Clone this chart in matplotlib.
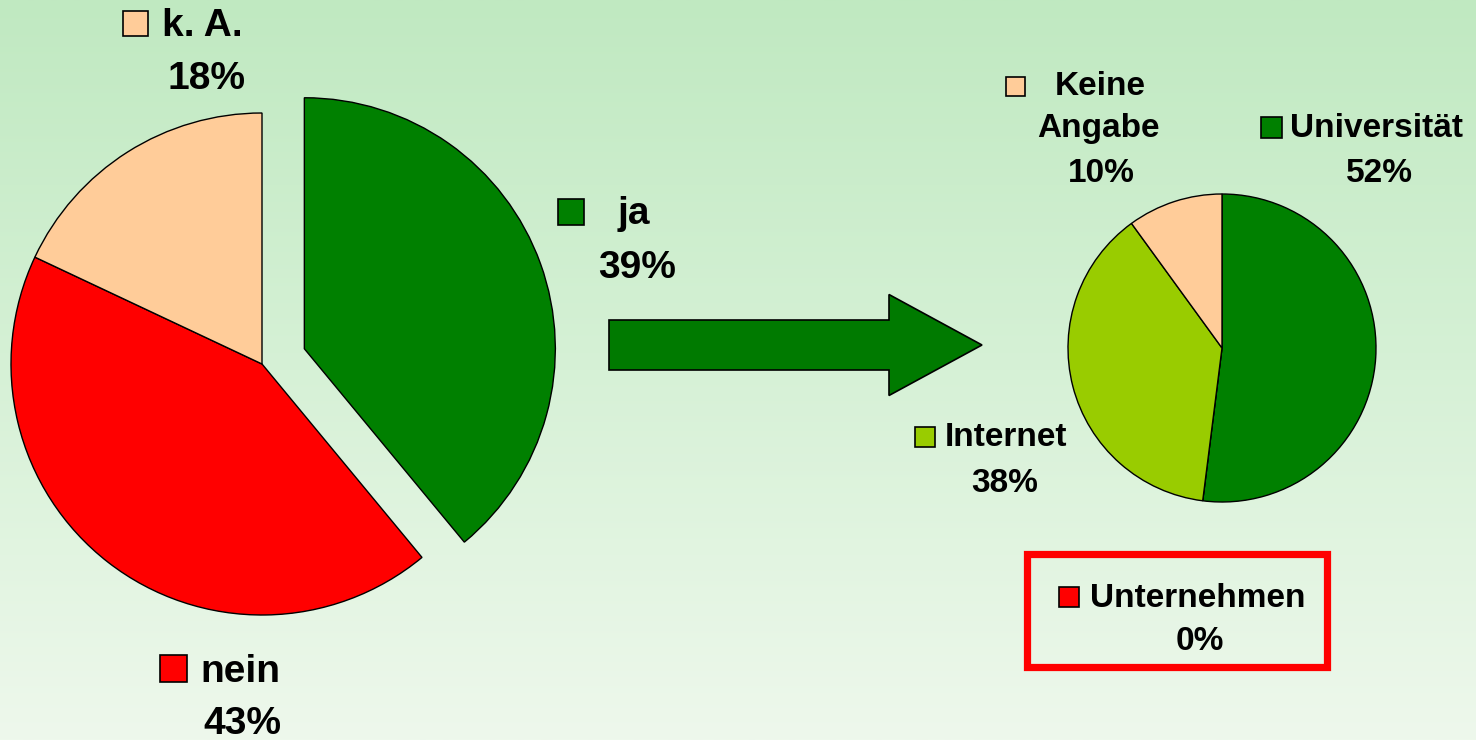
import numpy as np
import matplotlib
matplotlib.use("Agg")
import matplotlib.pyplot as plt
from matplotlib.patches import Rectangle, FancyArrow
from matplotlib.colors import LinearSegmentedColormap

plt.rcParams['font.family'] = ['Liberation Sans', 'DejaVu Sans']

W, H = 1476, 740

# left pie: answered yes / no / no answer
main_labels = ['ja', 'nein', 'k. A.']
main_values = [39, 43, 18]
main_colors = ['#008000', '#ff0000', '#ffcc99']

# right pie: where "ja" came from
src_labels = ['Universität', 'Unternehmen', 'Internet', 'Keine\nAngabe']
src_values = [52, 0, 38, 10]
src_colors = ['#008000', '#ff0000', '#99cc00', '#ffcc99']


def fy(y):
    return H - y


fig = plt.figure(figsize=(W / 100, H / 100), dpi=100)
ax = fig.add_axes([0, 0, 1, 1])

# background gradient, darker green at the top
grad = LinearSegmentedColormap.from_list('bg', ['#c0e9c1', '#d6f1d6', '#eef8ec'])
ax.imshow(np.linspace(0, 1, 256).reshape(-1, 1), cmap=grad, aspect='auto',
          extent=(0, W, 0, H), zorder=0)

wp = dict(edgecolor='black', linewidth=1)
ax.pie(main_values, colors=main_colors, startangle=90, counterclock=False,
       explode=[45, 0, 0], center=(262, fy(364)), radius=251,
       wedgeprops=wp, frame=True)
ax.pie(src_values, colors=src_colors, startangle=90, counterclock=False,
       center=(1222, fy(348)), radius=154, wedgeprops=wp, frame=True)

ax.add_patch(FancyArrow(609, fy(345), 373, 0, width=50, head_width=101,
                        head_length=93, length_includes_head=True,
                        facecolor='#007a00', edgecolor='black', linewidth=1.2))

# red frame around Unternehmen
ax.add_patch(Rectangle((1026.5, fy(666.5)), 300, 113, fill=False,
                       edgecolor='#ff0000', linewidth=5.2, zorder=3))


def marker(x, y, size, color):
    ax.add_patch(Rectangle((x, fy(y + size)), size, size, facecolor=color,
                           edgecolor='black', linewidth=1.2, zorder=4))


def label(x, y, s, size, ha='left'):
    ax.text(x, fy(y), s, fontsize=size, fontweight='bold', ha=ha,
            va='baseline', color='black', zorder=5)


big, small = 28, 24
pct = ['%d%%' % v for v in main_values]

# left pie labels
marker(558, 199, 26, main_colors[0])
label(618, 224, main_labels[0], big)
label(637, 278, pct[0], big, 'center')
marker(160, 655, 27, main_colors[1])
label(200, 682, main_labels[1], big)
label(242, 734, pct[1], big, 'center')
marker(123, 11, 25, main_colors[2])
label(162, 36, main_labels[2], big)
label(207, 89, pct[2], big, 'center')

# right pie labels
spct = ['%d%%' % v for v in src_values]
marker(1261, 117, 21, src_colors[0])
label(1290, 137, src_labels[0], small)
label(1379, 182, spct[0], small, 'center')
marker(1059, 587, 20, src_colors[1])
label(1090, 607, src_labels[1], small)
label(1200, 650, spct[1], small, 'center')
marker(915, 427, 20, src_colors[2])
label(945, 446, src_labels[2], small)
label(1005, 492, spct[2], small, 'center')
marker(1006, 77, 19, src_colors[3])
first, second = src_labels[3].split('\n')
label(1055, 95, first, small)
label(1098, 137, second, small, 'center')
label(1101, 182, spct[3], small, 'center')

ax.set_xlim(0, W)
ax.set_ylim(0, H)
ax.set_aspect('auto')
ax.axis('off')

fig.savefig('out.png', dpi=100)
